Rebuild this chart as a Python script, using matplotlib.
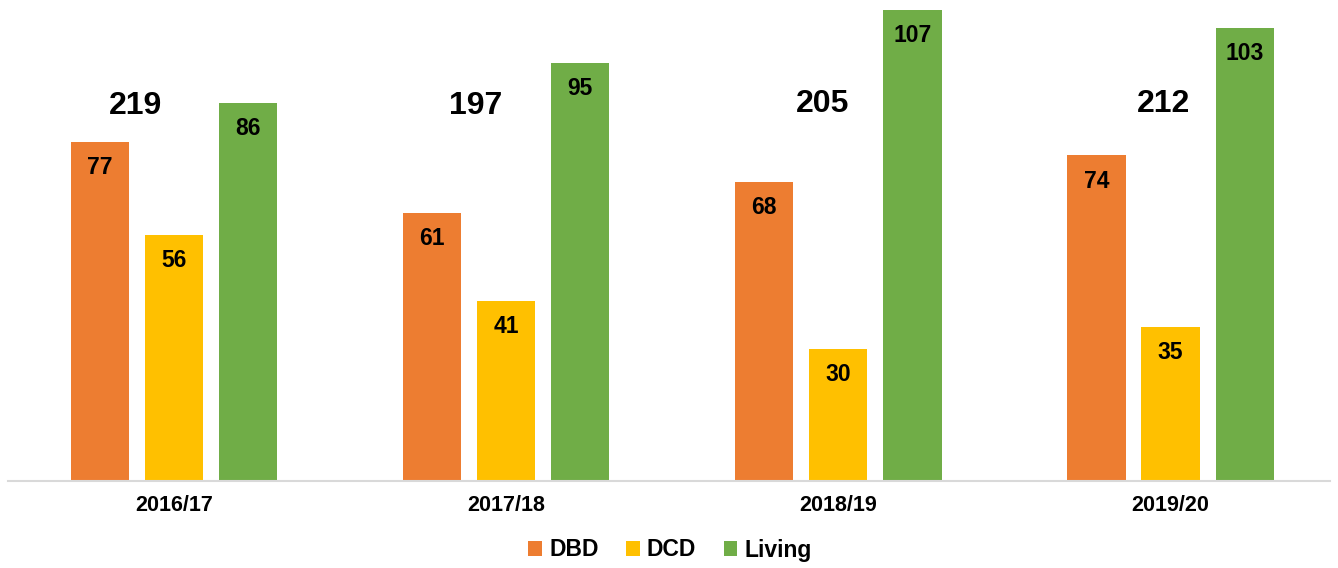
import matplotlib.pyplot as plt
import numpy as np

plt.rcParams['font.family'] = ['Liberation Sans', 'DejaVu Sans']

years = ['2016/17', '2017/18', '2018/19', '2019/20']
dbd = [77, 61, 68, 74]
dcd = [56, 41, 30, 35]
living = [86, 95, 107, 103]
totals = [219, 197, 205, 212]

series = [('DBD', dbd, '#ED7D31'), ('DCD', dcd, '#FFC000'), ('Living', living, '#70AD47')]

fig = plt.figure(figsize=(13.38, 5.68), dpi=100)
ax = fig.add_axes([8 / 1338, 87 / 568, 1322 / 1338, 476 / 568])

x = np.arange(len(years))
step = 0.223
width = 0.175
for i, (name, vals, col) in enumerate(series):
    pos = x + (i - 1) * step
    bars = ax.bar(pos, vals, width, color=col, label=name)
    for b, v in zip(bars, vals):
        ax.text(b.get_x() + b.get_width() / 2, v - 3.2, str(v), ha='center', va='top',
                fontsize=16.5, fontweight='bold')

# total labels sit above the groups, slightly left of centre
tot_dx = [-0.117, -0.093, -0.048, -0.021]
tot_y = [85.3, 85.3, 85.8, 85.8]
for xi, t, dx, ty in zip(x, totals, tot_dx, tot_y):
    ax.text(xi + dx, ty, str(t), ha='center', va='center', fontsize=23, fontweight='bold')

ax.set_xlim(-0.5, 3.48)
ax.set_ylim(0, 108.2)
ax.set_xticks(x)
ax.set_xticklabels(years, fontsize=15.5, fontweight='bold')
ax.tick_params(axis='x', length=0, pad=10)
ax.set_yticks([])
for s in ['top', 'right', 'left']:
    ax.spines[s].set_visible(False)
ax.spines['bottom'].set_color('#D9D9D9')
ax.spines['bottom'].set_linewidth(1.5)

fig.legend(loc='center', bbox_to_anchor=(670 / 1338, 1 - 550 / 568), ncol=3, frameon=False,
           prop={'size': 16.5, 'weight': 'bold'}, handlelength=0.6, handleheight=0.6,
           handletextpad=0.3, columnspacing=1.2)

fig.savefig('out.png', dpi=100)
